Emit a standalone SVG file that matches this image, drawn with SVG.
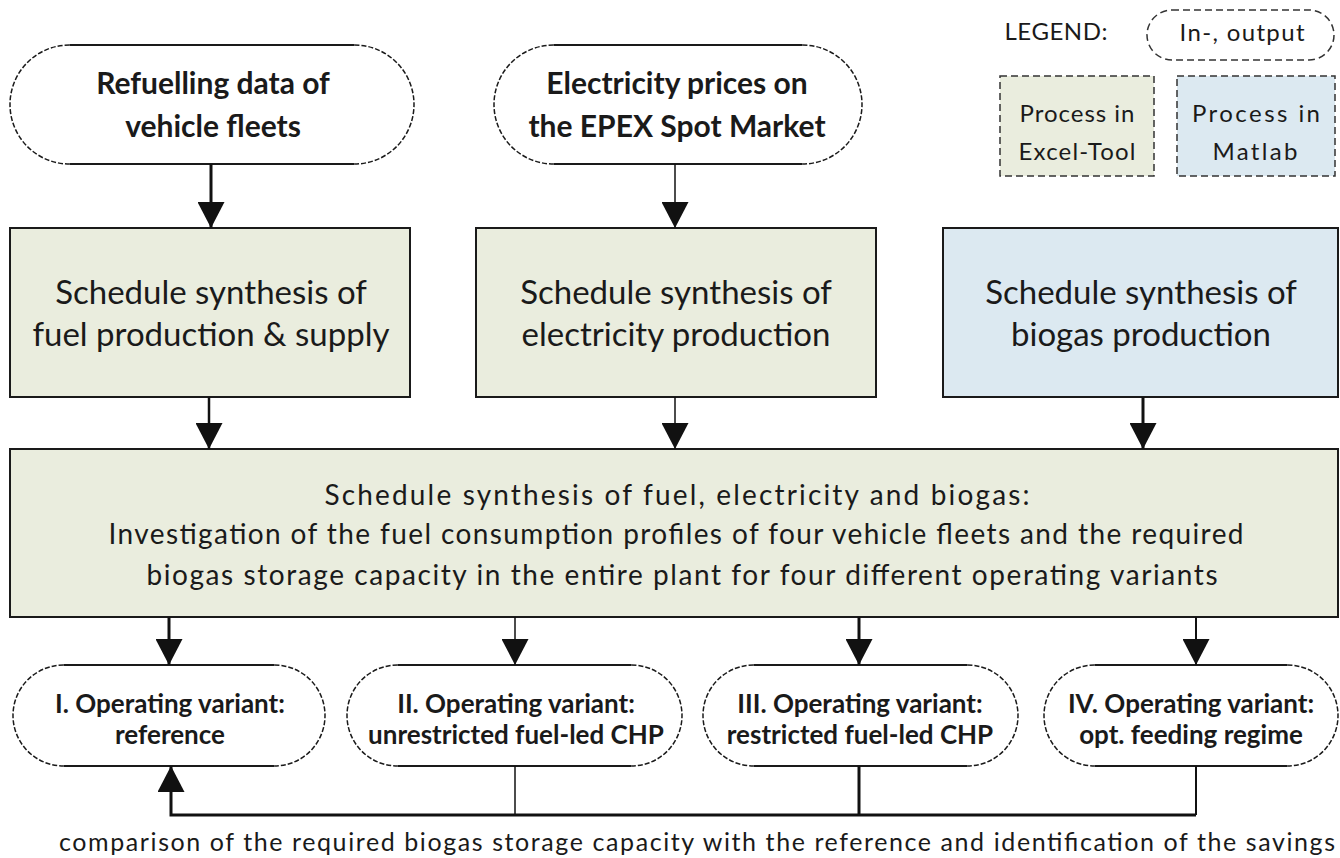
<svg xmlns="http://www.w3.org/2000/svg" width="1340" height="858" viewBox="0 0 1340 858">
<defs>
<marker id="ah" markerUnits="userSpaceOnUse" markerWidth="27" markerHeight="27" refX="26" refY="13.5" orient="auto">
<path d="M0,0 L26,13.5 L0,27 z" fill="#111"/>
</marker>
<style>
text{font-family:Lato,"Liberation Sans",sans-serif;fill:#1a1a1a;text-anchor:middle}
.io{font-weight:bold;font-size:30px}
.var{font-weight:bold;font-size:26px}
.proc{font-size:33px}
.big{font-size:28px}
.leg{font-size:24px}
.note{font-size:25px}
.pe{fill:none;stroke:#1a1a1a;stroke-width:2}
.pa{fill:none;stroke:#1a1a1a;stroke-width:1.5;stroke-dasharray:5 2}
.pf{fill:#fff;stroke:none}
.exc{fill:#eaedde;stroke:#1a1a1a;stroke-width:2}
.mat{fill:#dce9f1;stroke:#1a1a1a;stroke-width:2}
.ldash{stroke:#333;stroke-width:1.5;stroke-dasharray:7 4}
.c{fill:none;stroke:#111}
</style>
</defs>
<rect width="1340" height="858" fill="#fff"/>

<g id="legend">
<text class="leg" x="1056" y="40" textLength="103" lengthAdjust="spacing">LEGEND:</text>
<rect x="1147" y="10" width="187" height="50" rx="25" ry="25" fill="#fff" class="ldash"/>
<text class="leg" x="1242" y="41" textLength="125" lengthAdjust="spacing">In-, output</text>
<rect x="1000" y="76" width="154" height="100" class="ldash" fill="#eaedde"/>
<text class="leg" x="1077" y="122" textLength="115" lengthAdjust="spacing">Process in</text>
<text class="leg" x="1077" y="160" textLength="117" lengthAdjust="spacing">Excel-Tool</text>
<rect x="1177" y="76" width="158" height="100" class="ldash" fill="#dce9f1"/>
<text class="leg" x="1256" y="122" textLength="128" lengthAdjust="spacing">Process in</text>
<text class="leg" x="1255" y="160" textLength="85" lengthAdjust="spacing">Matlab</text>
</g>

<g id="in-refuelling">
<rect class="pf" x="10" y="45" width="404" height="119" rx="59.5"/>
<path class="pe" d="M69.5,45 H354.5 M69.5,164 H354.5"/>
<path class="pa" d="M69.5,45 A59.5,59.5 0 0 0 69.5,164 M354.5,45 A59.5,59.5 0 0 1 354.5,164"/>
<text class="io" x="213" y="94">Refuelling data of</text>
<text class="io" x="213" y="137">vehicle fleets</text>
</g>

<g id="in-electricity">
<rect class="pf" x="494" y="45" width="368" height="119" rx="59.5"/>
<path class="pe" d="M553.5,45 H802.5 M553.5,164 H802.5"/>
<path class="pa" d="M553.5,45 A59.5,59.5 0 0 0 553.5,164 M802.5,45 A59.5,59.5 0 0 1 802.5,164"/>
<text class="io" x="677" y="94">Electricity prices on</text>
<text class="io" x="677" y="137">the EPEX Spot Market</text>
</g>

<g id="proc-fuel">
<rect class="exc" x="10" y="228" width="400" height="169"/>
<text class="proc" x="211" y="304">Schedule synthesis of</text>
<text class="proc" x="211" y="346">fuel production &amp; supply</text>
</g>

<g id="proc-electricity">
<rect class="exc" x="476" y="228" width="400" height="169"/>
<text class="proc" x="676" y="304">Schedule synthesis of</text>
<text class="proc" x="676" y="346">electricity production</text>
</g>

<g id="proc-biogas">
<rect class="mat" x="943" y="228" width="395" height="169"/>
<text class="proc" x="1141" y="304">Schedule synthesis of</text>
<text class="proc" x="1141" y="346">biogas production</text>
</g>

<g id="proc-combined">
<rect class="exc" x="10" y="449" width="1328" height="168"/>
<text class="big" x="677" y="505" textLength="705" lengthAdjust="spacing">Schedule synthesis of fuel, electricity and biogas:</text>
<text class="big" x="676" y="544" textLength="1135" lengthAdjust="spacing">Investigation of the fuel consumption profiles of four vehicle fleets and the required</text>
<text class="big" x="682" y="585" textLength="1071" lengthAdjust="spacing">biogas storage capacity in the entire plant for four different operating variants</text>
</g>

<g id="out-variant1">
<rect class="pf" x="13" y="665" width="312" height="101" rx="50.5"/>
<path class="pe" d="M63.5,665 H274.5 M63.5,766 H274.5"/>
<path class="pa" d="M63.5,665 A50.5,50.5 0 0 0 63.5,766 M274.5,665 A50.5,50.5 0 0 1 274.5,766"/>
<text class="var" x="170" y="713">I. Operating variant:</text>
<text class="var" x="170" y="744">reference</text>
</g>

<g id="out-variant2">
<rect class="pf" x="347" y="665" width="335" height="101" rx="50.5"/>
<path class="pe" d="M397.5,665 H631.5 M397.5,766 H631.5"/>
<path class="pa" d="M397.5,665 A50.5,50.5 0 0 0 397.5,766 M631.5,665 A50.5,50.5 0 0 1 631.5,766"/>
<text class="var" x="516" y="713">II. Operating variant:</text>
<text class="var" x="516" y="744">unrestricted fuel-led CHP</text>
</g>

<g id="out-variant3">
<rect class="pf" x="703" y="665" width="315" height="101" rx="50.5"/>
<path class="pe" d="M753.5,665 H967.5 M753.5,766 H967.5"/>
<path class="pa" d="M753.5,665 A50.5,50.5 0 0 0 753.5,766 M967.5,665 A50.5,50.5 0 0 1 967.5,766"/>
<text class="var" x="860" y="713">III. Operating variant:</text>
<text class="var" x="860" y="744">restricted fuel-led CHP</text>
</g>

<g id="out-variant4">
<rect class="pf" x="1044" y="665" width="294" height="101" rx="50.5"/>
<path class="pe" d="M1094.5,665 H1287.5 M1094.5,766 H1287.5"/>
<path class="pa" d="M1094.5,665 A50.5,50.5 0 0 0 1094.5,766 M1287.5,665 A50.5,50.5 0 0 1 1287.5,766"/>
<text class="var" x="1191" y="713">IV. Operating variant:</text>
<text class="var" x="1191" y="744">opt. feeding regime</text>
</g>

<g id="connectors">
<line class="c" x1="211" y1="164" x2="211" y2="228" stroke-width="3" marker-end="url(#ah)"/>
<line class="c" x1="675" y1="164" x2="675" y2="228" stroke-width="1.5" marker-end="url(#ah)"/>
<line class="c" x1="209" y1="397" x2="209" y2="449" stroke-width="2.5" marker-end="url(#ah)"/>
<line class="c" x1="675" y1="397" x2="675" y2="449" stroke-width="1.5" marker-end="url(#ah)"/>
<line class="c" x1="1143" y1="397" x2="1143" y2="449" stroke-width="3" marker-end="url(#ah)"/>
<line class="c" x1="169" y1="617" x2="169" y2="665" stroke-width="3" marker-end="url(#ah)"/>
<line class="c" x1="515" y1="617" x2="515" y2="665" stroke-width="1.5" marker-end="url(#ah)"/>
<line class="c" x1="859" y1="617" x2="859" y2="665" stroke-width="3" marker-end="url(#ah)"/>
<line class="c" x1="1196" y1="617" x2="1196" y2="665" stroke-width="2" marker-end="url(#ah)"/>
<line class="c" x1="515" y1="766" x2="515" y2="815" stroke-width="1.5"/>
<line class="c" x1="859" y1="766" x2="859" y2="815" stroke-width="3"/>
<line class="c" x1="1196" y1="766" x2="1196" y2="815" stroke-width="2"/>
<polyline class="c" points="1196,815 171,815 171,766" stroke-width="3" marker-end="url(#ah)"/>
</g>

<text class="note" x="697" y="851" textLength="1276" lengthAdjust="spacing">comparison of the required biogas storage capacity with the reference and identification of the savings</text>
</svg>
